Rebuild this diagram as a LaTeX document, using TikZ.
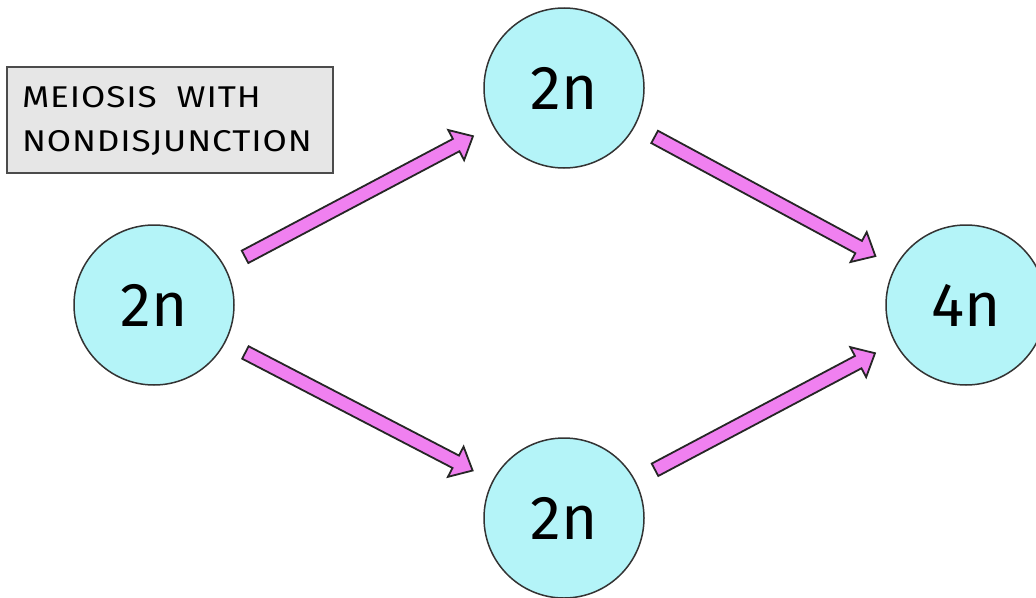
\documentclass[tikz,border=0pt]{standalone}
\usepackage{fontspec}
\setmainfont{Fira Sans}
\usetikzlibrary{calc}
\definecolor{cellfill}{RGB}{180,244,248}
\definecolor{arrowpink}{RGB}{240,128,240}
\definecolor{boxgray}{RGB}{230,230,230}

\tikzset{
  cell/.style={circle, draw=black!80, line width=1.5pt, fill=cellfill,
    minimum size=160pt, inner sep=0pt, font=\fontsize{62}{62}\selectfont},
  fatarrow/.style={draw=black!85, line width=1.8pt, fill=arrowpink, line join=miter},
  titlebox/.style={draw=black!70, line width=1.2pt, fill=boxgray,
    minimum width=326pt, minimum height=106pt, text width=296pt, align=left,
    inner xsep=4pt,
    font=\fontsize{30}{44}\selectfont\addfontfeatures{FakeStretch=1.17, LetterSpace=3}}
}

\begin{document}
\begin{tikzpicture}[x=1pt, y=-1pt]
  \useasboundingbox (0,0) rectangle (1036,597);

  % Label box
  \node[titlebox] (title) at (170,120) {\rule{0pt}{23.5pt}MEIOSIS\ \ WITH\\NONDISJUNCTION};

  % Cells
  \node[cell] (parent) at (154,305) {2n};
  \node[cell] (upper) at (564,88) {2n};
  \node[cell] (lower) at (564,518) {2n};
  \node[cell] (product) at (966,305) {4n};

  % Fat arrows between the cells
  \foreach \from/\to in {parent/upper, upper/product, parent/lower, lower/product} {
    \coordinate (tail) at ($(\from)!103pt!(\to)$);
    \coordinate (tip) at ($(\to)!103pt!(\from)$);
    \coordinate (neck) at ($(tip)!19pt!(tail)$);
    \draw[fatarrow] ($(tail)!7pt!90:(tip)$) -- ($(neck)!7pt!90:(tip)$)
      -- ($(neck)!17pt!90:(tip)$) -- (tip) -- ($(neck)!17pt!-90:(tip)$)
      -- ($(neck)!7pt!-90:(tip)$) -- ($(tail)!7pt!-90:(tip)$) -- cycle;
  }
\end{tikzpicture}
\end{document}
